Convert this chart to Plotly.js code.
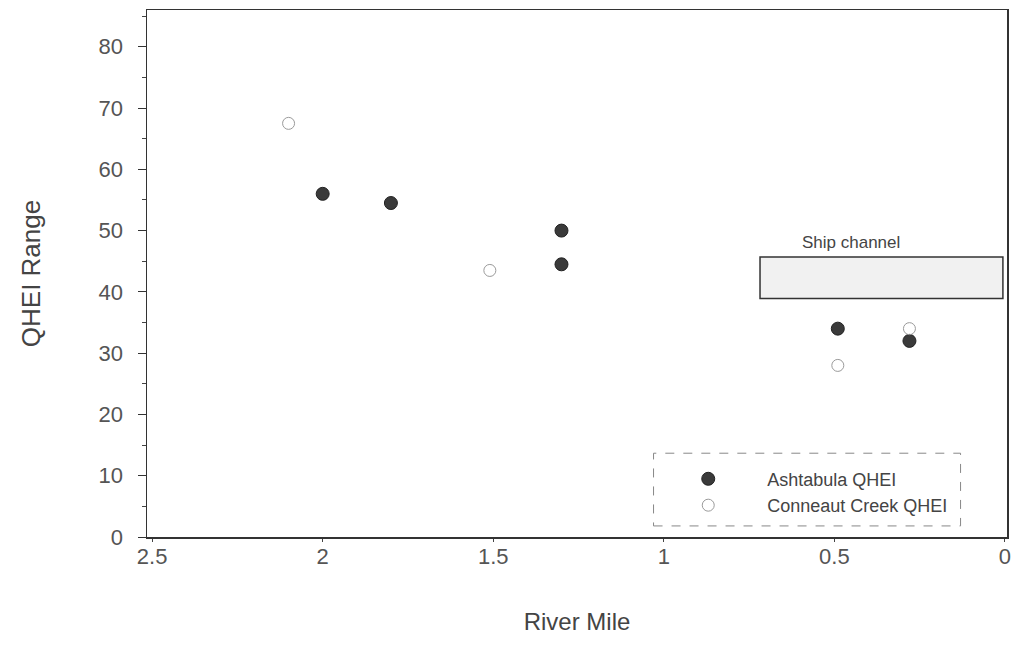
<!DOCTYPE html>
<html>
<head>
<meta charset="utf-8">
<script src="https://cdn.plot.ly/plotly-3.0.1.min.js"></script>
<style>html,body{margin:0;padding:0;background:#fff;}#chart{width:1016px;height:663px;}</style>
</head>
<body>
<div id="chart"></div>
<script>
// River mile (x) and QHEI (y) values
const ashtabulaMile = [2.0, 1.8, 1.3, 1.3, 0.49, 0.28];
const ashtabulaQHEI = [56, 54.5, 50, 44.5, 34, 32];
const conneautMile = [2.1, 1.51, 0.49, 0.28];
const conneautQHEI = [67.5, 43.5, 28, 34];
const xTickVals = [2.5, 2, 1.5, 1, 0.5, 0];
const xTickText = ["2.5", "2", "1.5", "1", "0.5", "0"];
const yTickVals = [0, 10, 20, 30, 40, 50, 60, 70, 80];
const shipChannelMile = [0.718, 0.006];
const shipChannelQHEI = [38.9, 45.7];
const shipChannelLabelMile = 0.45;
const shipChannelLabel = "Ship channel";

const fontFam = "Liberation Sans, Arial, sans-serif";

const traces = [
  {
    x: ashtabulaMile, y: ashtabulaQHEI, mode: "markers", type: "scatter",
    name: "Ashtabula QHEI",
    marker: {symbol: "circle", size: 13, color: "#3a3a3a", line: {color: "#222", width: 1}}
  },
  {
    x: conneautMile, y: conneautQHEI, mode: "markers", type: "scatter",
    name: "Conneaut Creek QHEI",
    marker: {symbol: "circle-open", size: 12, color: "#9a9a9a", line: {color: "#9a9a9a", width: 1}}
  }
];

const layout = {
  width: 1016, height: 663,
  margin: {l: 147, r: 9, t: 10, b: 126},
  paper_bgcolor: "#fff", plot_bgcolor: "#fff",
  font: {family: fontFam, color: "#333"},
  showlegend: true,
  legend: {
    x: 0.584, y: 0.145, xanchor: "left", yanchor: "top",
    bgcolor: "rgba(0,0,0,0)", borderwidth: 0,
    itemwidth: 108,
    font: {family: fontFam, size: 18, color: "#444"},
    tracegroupgap: 0
  },
  xaxis: {
    range: [2.515, -0.006],
    tickvals: xTickVals, ticktext: xTickText,
    ticks: "outside", ticklen: 3, tickcolor: "#444",
    ticklabelstandoff: -4,
    showline: true, linecolor: "#333", linewidth: 1.5, mirror: true,
    showgrid: false, zeroline: false,
    tickfont: {family: fontFam, size: 22, color: "#555"},
    title: {text: "River Mile", font: {family: fontFam, size: 24, color: "#444"}, standoff: 45}
  },
  yaxis: {
    range: [0, 86],
    tickvals: yTickVals,
    ticks: "outside", ticklen: 8, tickcolor: "#333",
    ticklabelstandoff: 10,
    minor: {dtick: 5, ticks: "outside", ticklen: 4, tickcolor: "#444"},
    showline: true, linecolor: "#333", linewidth: 1.5, mirror: true,
    showgrid: false, zeroline: false,
    tickfont: {family: fontFam, size: 22, color: "#555"},
    title: {text: "QHEI Range", font: {family: fontFam, size: 26, color: "#444"}, standoff: 50}
  },
  shapes: [
    {
      type: "rect", xref: "x", yref: "y",
      x0: shipChannelMile[0], x1: shipChannelMile[1],
      y0: shipChannelQHEI[0], y1: shipChannelQHEI[1],
      fillcolor: "#f1f1f1", line: {color: "#333", width: 1.5}
    },
    {
      type: "rect", xref: "paper", yref: "paper",
      x0: 0.589, x1: 0.946, y0: 0.021, y1: 0.159,
      fillcolor: "rgba(0,0,0,0)", line: {color: "#888", width: 1, dash: "dash"}
    }
  ],
  annotations: [
    {
      x: shipChannelLabelMile, y: shipChannelQHEI[1],
      xref: "x", yref: "y", text: shipChannelLabel, showarrow: false,
      yanchor: "bottom", yshift: 3,
      font: {family: fontFam, size: 17, color: "#444"}
    }
  ]
};

Plotly.newPlot("chart", traces, layout, {displayModeBar: false, staticPlot: true});
</script>
</body>
</html>
